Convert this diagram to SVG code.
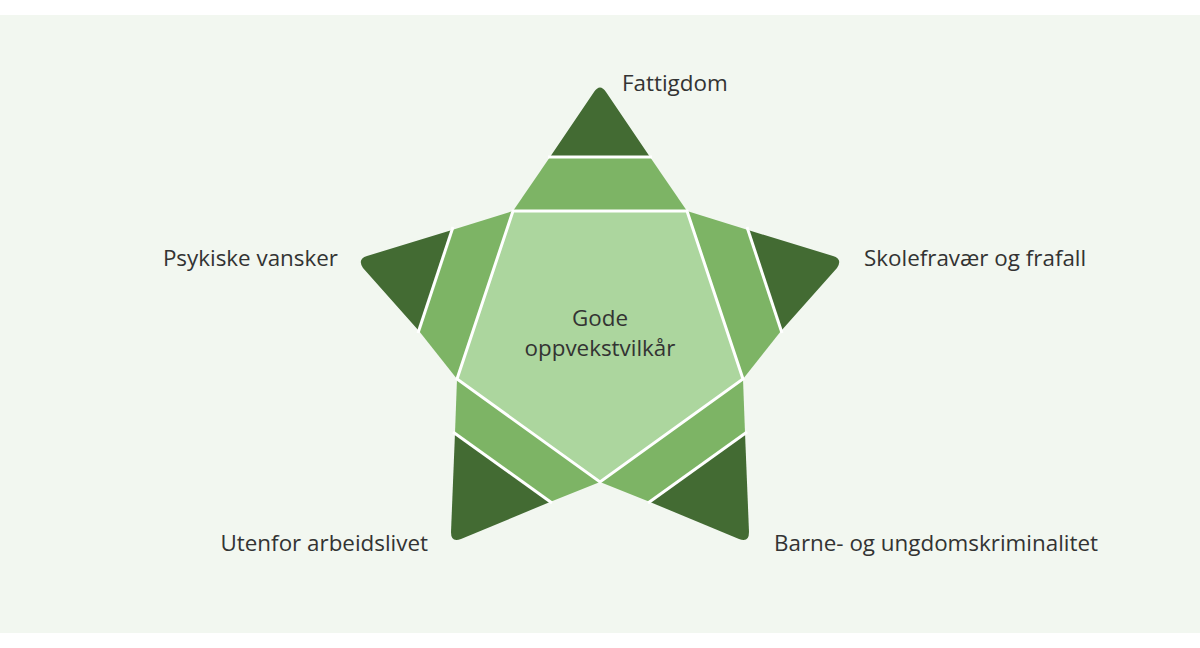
<svg xmlns="http://www.w3.org/2000/svg" width="1200" height="648" viewBox="0 0 1200 648">
<style>
.bg{fill:#f2f7f0}
.light{fill:#acd69e}
.mid{fill:#7db465}
.dark{fill:#436b33}
.sep{stroke:#ffffff;stroke-width:3;fill:none;stroke-linecap:butt}
.lbl{font-family:"Open Sans","Noto Sans",sans-serif;font-size:22.4px;fill:#333333}
</style>
<rect x="0" y="0" width="1200" height="648" fill="#ffffff"/>
<rect class="bg" x="0" y="15" width="1200" height="618"/>
<g id="center">
<polygon class="light" points="513,211 687,211 743,379 600,482 457,379"/>
<text class="lbl" x="600" y="326" text-anchor="middle">Gode</text>
<text class="lbl" x="600" y="356" text-anchor="middle">oppvekstvilkår</text>
</g>
<g id="fattigdom">
<polygon class="mid" points="513,211 550,157 650,157 687,211"/>
<path class="dark" d="M550,157 L594,92 Q600,83 606,92 L650,157 Z"/>
<text class="lbl" x="622" y="91">Fattigdom</text>
</g>
<g id="psykiske">
<polygon class="mid" points="513,211 452,230 419,331 457,379"/>
<path class="dark" d="M452,230 L367,256 Q357,259 363,268 L419,331 Z"/>
<text class="lbl" x="338" y="266" text-anchor="end">Psykiske vansker</text>
</g>
<g id="skolefravaer">
<polygon class="mid" points="687,211 748,230 781,331 743,379"/>
<path class="dark" d="M748,230 L833,256 Q843,259 837,268 L781,331 Z"/>
<text class="lbl" x="864" y="266">Skolefravær og frafall</text>
</g>
<g id="utenfor">
<polygon class="mid" points="457,379 455,433 550,502 600,482"/>
<path class="dark" d="M455,433 L451,532 Q451,543 461,539 L550,502 Z"/>
<text class="lbl" x="428" y="551" text-anchor="end">Utenfor arbeidslivet</text>
</g>
<g id="kriminalitet">
<polygon class="mid" points="743,379 745,433 650,502 600,482"/>
<path class="dark" d="M745,433 L749,532 Q749,543 739,539 L650,502 Z"/>
<text class="lbl" x="774" y="551">Barne- og ungdomskriminalitet</text>
</g>
<g id="connectors">
<polygon class="sep" points="513,211 687,211 743,379 600,482 457,379"/>
<line class="sep" x1="548" y1="157" x2="652" y2="157"/>
<line class="sep" x1="453" y1="227" x2="418" y2="333"/>
<line class="sep" x1="747" y1="227" x2="782" y2="333"/>
<line class="sep" x1="453" y1="432" x2="552" y2="503"/>
<line class="sep" x1="747" y1="432" x2="648" y2="503"/>
</g>
</svg>
